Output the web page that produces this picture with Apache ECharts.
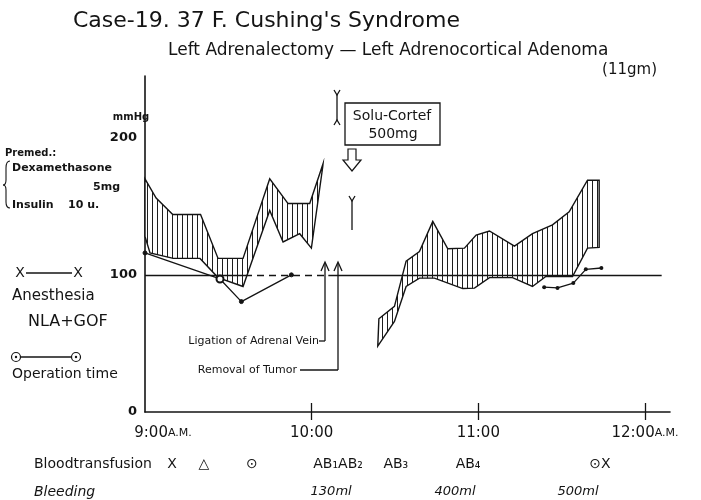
<!DOCTYPE html>
<html><head><meta charset="utf-8">
<script src="https://cdn.jsdelivr.net/npm/echarts@6/dist/echarts.min.js"></script>
<style>html,body{margin:0;padding:0;background:#fff}#c{width:701px;height:500px}</style>
</head><body><div id="c"></div>
<script>
// ---- data (minutes after 9:00 A.M., mmHg) ----
const xTickValues = [0, 60, 120, 180];
const xTickLabels = ['9:00A.M.', '10:00', '11:00', '12:00A.M.'];
const yTickValues = [0, 100, 200];
const leftUpper = [[0,170],[4,156],[10,144],[20,144],[26.3,112],[35.3,112],[44.9,170],[51.5,152],[59.3,152],[64.1,181]];
const leftLower = [[0,128],[1.8,116],[10.2,112],[19.8,112],[26.3,98],[35.3,91.5],[44.9,147],[49.7,124],[55.7,130],[59.9,119.5],[64,179]];
const rightUpper = [[84.2,68],[89.8,77],[94,110],[98.8,117],[103.6,139],[109,119],[115,119.5],[119.2,129],[124,132],[133,121],[139.5,130],[146.7,136.5],[152.7,146],[159.3,169],[163.5,169]];
const rightLower = [[83.8,48],[89.8,66],[94,91.5],[98.8,97.6],[104.2,97.6],[114.4,90],[118.6,90.3],[124,98],[132.3,98],[139.5,91.5],[144.3,98.8],[153.9,98.8],[159.3,119.5],[163.5,120]];
const pulseLeft = [[0,116],[27,97],[34.7,80.5],[52.7,100]];
const pulseRight = [[143.7,91],[148.5,90.5],[154.2,94],[158.7,104],[164.3,105]];
const refSolid = [[0,36],[66,186]];
const refDashed = [[36,66]];
const transfusionTimes = [9.7, 21.2, 38.5, 69.5, 90.3, 116.3, 163.8];
const transfusionLabels = ['X', '△', '⊙', 'AB₁AB₂', 'AB₃', 'AB₄', '⊙X'];
const bleedingTimes = [67, 111.6, 155.9];
const bleedingLabels = ['130ml', '400ml', '500ml'];

const FONT = 'DejaVu Sans';
const INK = '#141414';

const cv = document.createElement('canvas');
cv.width = 5; cv.height = 8;
const ctx = cv.getContext('2d');
ctx.fillStyle = '#fff'; ctx.fillRect(0, 0, 5, 8);
ctx.fillStyle = '#1e1e1e'; ctx.fillRect(2, 0, 1, 8);
const hatch = { image: cv, repeat: 'repeat' };

function band(upper, lower) {
  return {
    type: 'custom', coordinateSystem: 'cartesian2d', silent: true, z: 3,
    data: [upper[0]],
    renderItem(params, api) {
      const pts = upper.map(p => api.coord(p)).concat(lower.slice().reverse().map(p => api.coord(p)));
      return { type: 'polygon', shape: { points: pts }, style: { fill: hatch, stroke: INK, lineWidth: 1.4 } };
    }
  };
}

const chart = echarts.init(document.getElementById('c'), null, { renderer: 'canvas' });

const refLines = refSolid.map(s => [{ coord: [s[0], 100] }, { coord: [s[1], 100] }])
  .concat(refDashed.map(s => [{ coord: [s[0], 100], lineStyle: { type: [7, 5] } }, { coord: [s[1], 100] }]));

const pulseLeftData = pulseLeft.map((p, i) => i === 1 ? { value: p, symbol: 'emptyCircle', symbolSize: 7 } : p);

chart.setOption({
  backgroundColor: '#fff',
  animation: false,
  grid: { left: 145, right: 31, top: 76, bottom: 88 },
  xAxis: [{
    type: 'value', min: 0, max: 189, position: 'bottom',
    axisLine: { show: true, lineStyle: { color: INK, width: 1.6 } },
    splitLine: { show: false },
    axisTick: { show: true, customValues: [60, 120, 180], length: 8, lineStyle: { color: INK, width: 1.3 } },
    axisLabel: {
      customValues: xTickValues, margin: 14, color: INK, fontFamily: FONT, fontSize: 15,
      formatter: v => {
        const t = xTickLabels[xTickValues.indexOf(v)] || '';
        if (t.indexOf('A.M.') > 0) return (v === 0 ? '{p|}' : '') + '{b|' + t.replace('A.M.', '') + '}{s|A.M.}';
        return '{b|' + t + '}';
      },
      rich: {
        b: { fontSize: 15, fontFamily: FONT, color: INK },
        s: { fontSize: 11, fontFamily: FONT, color: INK },
        p: { width: 36 }
      }
    }
  }, {
    type: 'value', min: 0, max: 189, position: 'top', offset: -336,
    axisLine: { show: false }, splitLine: { show: false }, axisLabel: { show: false },
    axisTick: { show: true, customValues: [60, 120, 180], length: 9, lineStyle: { color: INK, width: 1.3 } }
  }],
  yAxis: {
    type: 'value', min: 0, max: 245, interval: 100,
    axisLine: { show: true, lineStyle: { color: INK, width: 1.6 } },
    axisTick: { show: false }, splitLine: { show: false },
    axisLabel: {
      customValues: yTickValues, margin: 8, color: INK, fontFamily: FONT, fontSize: 13, fontWeight: 'bold',
      formatter: v => String(v)
    }
  },
  series: [
    band(leftUpper, leftLower),
    band(rightUpper, rightLower),
    {
      type: 'line', data: pulseLeftData, symbol: 'circle', symbolSize: 4, z: 4,
      lineStyle: { color: INK, width: 1.3 }, itemStyle: { color: INK, borderColor: INK },
      markLine: { silent: true, symbol: 'none', label: { show: false }, lineStyle: { color: INK, width: 1.3, type: 'solid' }, data: refLines }
    },
    {
      type: 'line', data: pulseRight, symbol: 'circle', symbolSize: 4, z: 4,
      lineStyle: { color: INK, width: 1.3 }, itemStyle: { color: INK }
    }
  ]
});

function txt(x, y, text, size, opt) {
  opt = opt || {};
  return { type: 'text', x: x, y: y, silent: true,
    style: Object.assign({ text: text, fill: INK, font: (opt.weight || 'normal') + ' ' + size + 'px "' + FONT + '"',
      align: opt.align || 'left', verticalAlign: 'middle' }, opt.style || {}) };
}
function line(x1, y1, x2, y2, w) {
  return { type: 'line', silent: true, shape: { x1, y1, x2, y2 }, style: { stroke: INK, lineWidth: w || 1.3 } };
}
function poly(points, w) {
  return { type: 'polyline', silent: true, shape: { points }, style: { stroke: INK, lineWidth: w || 1.3, fill: null } };
}
function curve(x1, y1, cpx1, cpy1, x2, y2) {
  return { type: 'bezierCurve', silent: true, shape: { x1, y1, x2, y2, cpx1, cpy1 }, style: { stroke: INK, lineWidth: 1.1, fill: null } };
}

const px = m => chart.convertToPixel({ xAxisIndex: 0 }, m);

const g = [
  txt(73, 21, "Case-19. 37 F. Cushing's Syndrome", 22),
  txt(168, 51, 'Left Adrenalectomy — Left Adrenocortical Adenoma', 17),
  txt(657, 70, '(11gm)', 15, { align: 'right' }),
  txt(131, 117, 'mmHg', 10, { align: 'center', weight: 'bold' }),
  txt(5, 153, 'Premed.:', 10, { weight: 'bold' }),
  txt(12, 168, 'Dexamethasone', 11, { weight: 'bold' }),
  txt(120, 187, '5mg', 11, { align: 'right', weight: 'bold' }),
  txt(12, 205, 'Insulin', 11, { weight: 'bold' }),
  txt(68, 205, '10 u.', 11, { weight: 'bold' }),
  curve(10, 161, 6, 161, 6, 168), line(6, 168, 6, 180, 1.1), curve(6, 180, 6, 185, 3, 185),
  curve(3, 185, 6, 185, 6, 190), line(6, 190, 6, 202, 1.1), curve(6, 202, 6, 208, 10, 208),
  txt(20, 273, 'X', 14, { align: 'center' }),
  txt(78, 273, 'X', 14, { align: 'center' }),
  line(26, 273, 72, 273, 1.3),
  txt(12, 296, 'Anesthesia', 15),
  txt(28, 322, 'NLA+GOF', 16),
  { type: 'circle', silent: true, shape: { cx: 16, cy: 357, r: 4.5 }, style: { stroke: INK, lineWidth: 1.2, fill: '#fff' } },
  { type: 'circle', silent: true, shape: { cx: 16, cy: 357, r: 1.2 }, style: { fill: INK } },
  { type: 'circle', silent: true, shape: { cx: 76, cy: 357, r: 4.5 }, style: { stroke: INK, lineWidth: 1.2, fill: '#fff' } },
  { type: 'circle', silent: true, shape: { cx: 76, cy: 357, r: 1.2 }, style: { fill: INK } },
  line(21, 357, 71, 357, 1.3),
  txt(12, 374, 'Operation time', 14),
  // Solu-Cortef
  { type: 'rect', silent: true, shape: { x: 345, y: 103, width: 95, height: 42 }, style: { stroke: INK, lineWidth: 1.3, fill: '#fff' } },
  txt(392, 116, 'Solu-Cortef', 14, { align: 'center' }),
  txt(393, 134, '500mg', 14, { align: 'center' }),
  line(337, 94, 337, 121), poly([[334, 90], [337, 95], [340, 90]]), poly([[334, 125], [337, 120], [340, 125]]),
  line(352, 200, 352, 230), poly([[349, 196], [352, 201], [355, 196]]),
  { type: 'polygon', silent: true, shape: { points: [[348, 149], [356, 149], [356, 160], [361, 160], [352, 171], [343, 160], [348, 160]] }, style: { stroke: INK, lineWidth: 1.2, fill: '#fff' } },
  // arrows
  line(325, 263, 325, 341), poly([[321, 271], [325, 262], [329, 271]]),
  line(338, 263, 338, 370), poly([[334, 271], [338, 262], [342, 271]]),
  line(319, 341, 325, 341),
  txt(319, 341, 'Ligation of Adrenal Vein', 11, { align: 'right' }),
  line(300, 370, 338, 370),
  txt(297, 370, 'Removal of Tumor', 11, { align: 'right' }),
  // bottom rows
  txt(34, 464, 'Bloodtransfusion', 14),
  txt(34, 492, 'Bleeding', 14, { style: { font: 'italic 14px "' + FONT + '"' } })
];
transfusionTimes.forEach((t, i) => g.push(txt(px(t), 464, transfusionLabels[i], 14, { align: 'center' })));
bleedingTimes.forEach((t, i) => g.push(txt(px(t), 492, bleedingLabels[i], 13, { align: 'center', style: { font: 'italic 13px "' + FONT + '"' } })));

chart.setOption({ graphic: g });
</script></body></html>
